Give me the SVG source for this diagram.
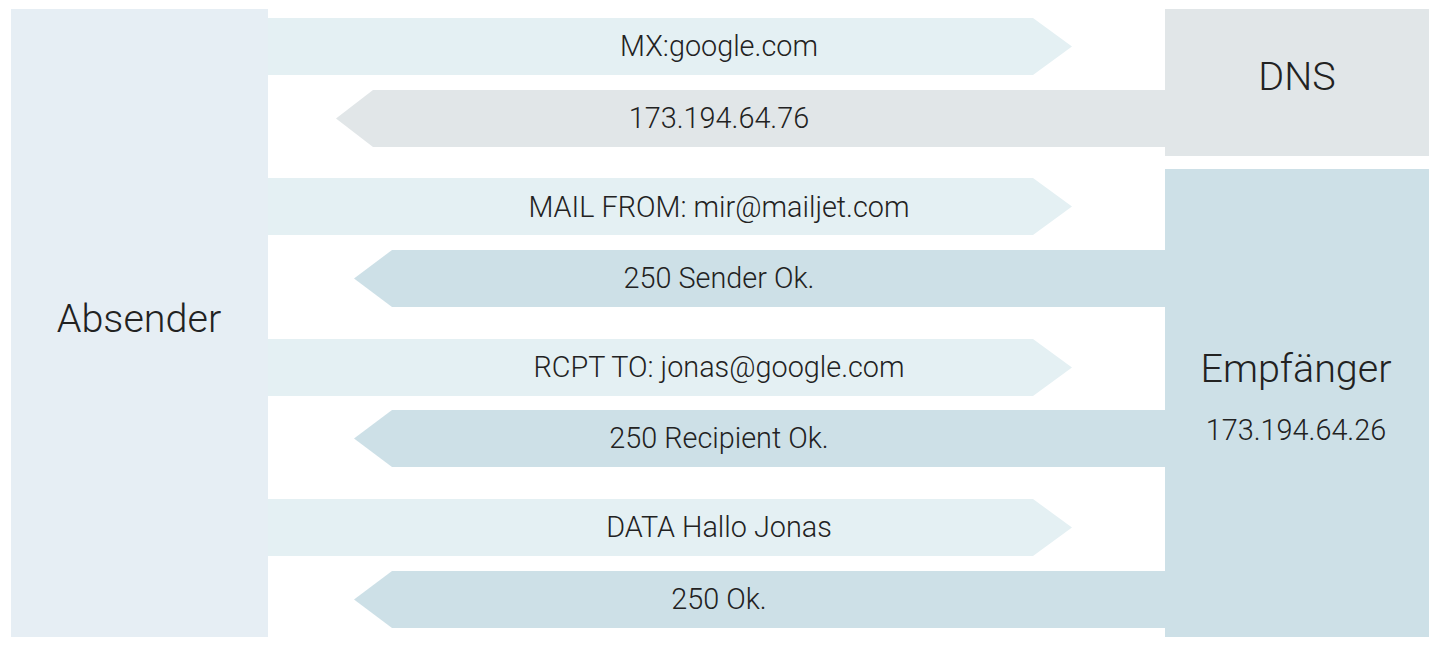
<svg xmlns="http://www.w3.org/2000/svg" width="1440" height="648" viewBox="0 0 1440 648">
<style>
.t{font-family:Roboto,"Liberation Sans",sans-serif;font-weight:300;fill:#222;text-anchor:middle}
.m{font-size:28.8px}
.n{font-size:39.5px}
.r{fill:#E4F0F3}
.lg{fill:#E1E6E8}
.lb{fill:#CDE0E7}
</style>
<rect width="1440" height="648" fill="#fff"/>
<g id="connectors">
<g id="c1"><polygon class="r" points="268,18 1033,18 1072,46.5 1033,75 268,75"/><text class="t m" x="719" y="56">MX:google.com</text></g>
<g id="c2"><polygon class="lg" points="1165,90 373,90 336,118.5 373,147 1165,147"/><text class="t m" x="719" y="128">173.194.64.76</text></g>
<g id="c3"><polygon class="r" points="268,178 1033,178 1072,206.5 1033,235 268,235"/><text class="t m" x="719" y="216.5">MAIL FROM: mir@mailjet.com</text></g>
<g id="c4"><polygon class="lb" points="1165,250 392,250 354,278.5 392,307 1165,307"/><text class="t m" x="719" y="288">250 Sender Ok.</text></g>
<g id="c5"><polygon class="r" points="268,339 1033,339 1072,367.5 1033,396 268,396"/><text class="t m" x="719" y="377">RCPT TO: jonas@google.com</text></g>
<g id="c6"><polygon class="lb" points="1165,410 392,410 354,438.5 392,467 1165,467"/><text class="t m" x="719" y="448">250 Recipient Ok.</text></g>
<g id="c7"><polygon class="r" points="268,499 1033,499 1072,527.5 1033,556 268,556"/><text class="t m" x="719" y="537">DATA Hallo Jonas</text></g>
<g id="c8"><polygon class="lb" points="1165,571 392,571 354,599.5 392,628 1165,628"/><text class="t m" x="719" y="609">250 Ok.</text></g>
</g>
<g id="absender"><rect x="11" y="9" width="257" height="628" fill="#E6EEF4"/><text class="t n" x="139" y="332">Absender</text></g>
<g id="dns"><rect x="1165" y="9" width="264" height="147" fill="#E1E6E8"/><text class="t n" x="1297" y="89.5">DNS</text></g>
<g id="empfaenger"><rect x="1165" y="169" width="264" height="468" fill="#CDE0E7"/><text class="t n" x="1296" y="382">Empfänger</text><text class="t m" x="1296" y="439.5">173.194.64.26</text></g>
</svg>
